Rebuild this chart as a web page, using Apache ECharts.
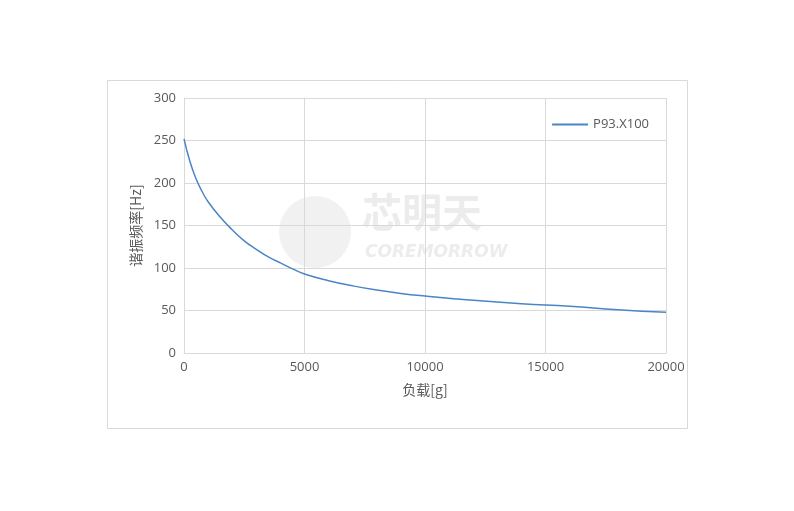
<!DOCTYPE html>
<html><head><meta charset="utf-8">
<script src="https://cdn.jsdelivr.net/npm/echarts@6/dist/echarts.min.js"></script>
<style>html,body{margin:0;padding:0;background:#fff}#c{width:794px;height:511px}</style>
</head><body><div id="c"></div>
<script>
const loads=[0,250,500,750,1000,1500,2000,2500,3000,3500,4000,4500,5000,6000,7000,8000,9000,10000,12000,14000,16000,18000,20000];
const freqs=[252,225,205,190,178,160,145,132,122,113,106,99,93,85,79,74,70,67,62,58,55,51,48];
const seriesName='P93.X100';
const chart=echarts.init(document.getElementById('c'));
const txt={color:'#595959',fontSize:12,fontFamily:'Noto Sans CJK SC'};
chart.setOption({
  animation:false,
  graphic:[{type:'rect',shape:{x:107.5,y:80.5,width:580,height:348},style:{fill:'none',stroke:'#d9d9d9',lineWidth:1}},
   {type:'text',left:362,top:192,style:{text:'芯明天',fill:'rgba(200,200,200,0.35)',font:'bold 40px "Noto Sans CJK SC"'}},
   {type:'text',left:365,top:244,style:{text:'COREMORROW',fill:'rgba(200,200,200,0.35)',font:'italic bold 17px "DejaVu Sans"'}},
   {type:'circle',shape:{cx:315,cy:232,r:36},style:{fill:'rgba(200,200,200,0.25)'}}],
  grid:{left:184,right:128,top:98,bottom:158},
  legend:{right:140,top:113,itemWidth:36,itemHeight:2,icon:'rect',textStyle:{...txt,fontSize:13,fontFamily:'Open Sans'},data:[seriesName]},
  xAxis:{type:'value',min:0,max:20000,interval:5000,name:'负载[g]',nameLocation:'middle',nameGap:30,nameTextStyle:{...txt,fontSize:14},
    axisLine:{show:true,lineStyle:{color:'#d9d9d9'}},axisTick:{show:false},axisLabel:{...txt,fontSize:13,fontFamily:'Open Sans',formatter:v=>String(v)},
    splitLine:{lineStyle:{color:'#d9d9d9'}}},
  yAxis:{type:'value',min:0,max:300,interval:50,name:'谐振频率[Hz]',nameLocation:'middle',nameGap:30,nameTextStyle:{...txt,fontSize:14},
    axisLine:{show:false},axisTick:{show:false},axisLabel:{...txt,fontSize:13,fontFamily:'Open Sans'},
    splitLine:{lineStyle:{color:'#d9d9d9'}}},
  series:[{name:seriesName,type:'line',smooth:true,showSymbol:false,data:loads.map((x,i)=>[x,freqs[i]]),
    lineStyle:{color:'#4a86c5',width:1.5},itemStyle:{color:'#4a86c5'}}]
});
</script></body></html>
